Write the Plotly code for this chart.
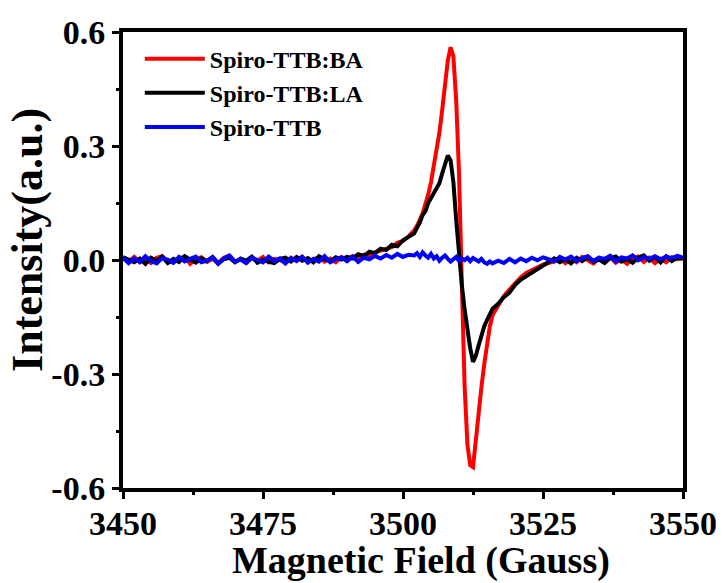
import plotly.graph_objects as go

# Magnetic field (Gauss)
field_gauss = [
    3450, 3451, 3452, 3453, 3454, 3455, 3456, 3457, 3458, 3459,
    3460, 3461, 3462, 3463, 3464, 3465, 3466, 3467, 3468, 3469,
    3470, 3471, 3472, 3473, 3474, 3475, 3476, 3477, 3478, 3479,
    3480, 3481, 3482, 3483, 3484, 3485, 3486, 3487, 3488, 3489,
    3490, 3491, 3492, 3493, 3494, 3495, 3496, 3497, 3498, 3499,
    3500, 3501, 3502,
    3502.5, 3503, 3503.5, 3504, 3504.5, 3505, 3505.5, 3506, 3506.5, 3507,
    3507.5, 3508, 3508.5, 3509, 3509.5, 3510, 3510.5, 3511, 3511.5, 3512,
    3512.5, 3513, 3513.5, 3514, 3514.5, 3515, 3515.5, 3516,
    3517, 3518, 3519, 3520, 3521, 3522, 3523, 3524, 3525, 3526,
    3527, 3528, 3529, 3530, 3531, 3532, 3533, 3534, 3535, 3536,
    3537, 3538, 3539, 3540, 3541, 3542, 3543, 3544, 3545, 3546,
    3547, 3548, 3549, 3550,
]

# Spiro-TTB:BA (red)
intensity_ba = [
    0.005, -0.004, 0.008, -0.006, 0.002, -0.008, 0.006, 0.010, -0.003, -0.007,
    0.004, 0.009, -0.010, 0.002, 0.007, -0.005, 0.003, -0.009, 0.006, 0.011,
    -0.004, 0.001, -0.008, 0.005, -0.002, 0.008, -0.006, 0.003, 0.000, -0.007,
    0.006, -0.003, 0.009, -0.005, 0.002, 0.007, -0.004, 0.004, -0.006, 0.008,
    0.003, 0.010, 0.006, 0.014, 0.012, 0.020, 0.025, 0.030, 0.034, 0.045,
    0.050, 0.062, 0.078,
    0.090, 0.105, 0.122, 0.148, 0.172, 0.205, 0.245, 0.290, 0.335, 0.395,
    0.465, 0.525, 0.560, 0.535, 0.420, 0.230, -0.060, -0.330, -0.485, -0.540,
    -0.545, -0.470, -0.395, -0.335, -0.275, -0.215, -0.175, -0.145,
    -0.120, -0.095, -0.078, -0.060, -0.046, -0.034, -0.026, -0.018, -0.012, -0.008,
    -0.004, 0.006, -0.008, 0.003, -0.006, 0.008, -0.002, -0.009, 0.005, -0.004,
    0.007, -0.007, 0.002, -0.010, 0.004, 0.009, -0.005, 0.006, -0.008, 0.003,
    -0.006, 0.007, 0.002, 0.005,
]

# Spiro-TTB:LA (black)
intensity_la = [
    0.008, 0.002, -0.006, 0.004, -0.010, 0.006, -0.002, 0.009, -0.008, 0.003,
    -0.005, 0.010, 0.001, -0.007, 0.005, -0.003, 0.008, -0.009, 0.002, 0.006,
    -0.006, 0.004, -0.002, 0.009, -0.007, 0.001, -0.005, -0.008, 0.003, 0.006,
    -0.004, 0.008, -0.002, 0.005, -0.006, 0.010, 0.002, -0.003, 0.007, 0.001,
    0.008, 0.004, 0.015, 0.010, 0.022, 0.018, 0.030, 0.026, 0.040, 0.036,
    0.052, 0.060, 0.070,
    0.085, 0.098, 0.118, 0.128, 0.150, 0.163, 0.178, 0.188, 0.202, 0.228,
    0.252, 0.275, 0.262, 0.205, 0.105, 0.015, -0.065, -0.130, -0.185, -0.232,
    -0.268, -0.252, -0.225, -0.198, -0.175, -0.158, -0.142, -0.128,
    -0.115, -0.098, -0.086, -0.066, -0.052, -0.043, -0.034, -0.024, -0.015, -0.008,
    0.004, -0.006, 0.002, -0.009, 0.006, -0.003, 0.008, -0.005, 0.001, -0.008,
    0.005, 0.009, -0.004, 0.003, -0.007, 0.006, 0.012, -0.002, 0.008, -0.006,
    0.010, -0.003, 0.006, 0.004,
]

# Spiro-TTB (blue)
intensity_ref = [
    0.006, -0.008, 0.004, -0.005, 0.010, -0.003, -0.009, 0.005, 0.001, -0.007,
    0.008, -0.004, 0.003, 0.009, -0.006, -0.002, 0.007, -0.010, 0.004, 0.012,
    -0.005, 0.002, -0.008, 0.006, 0.000, -0.006, 0.009, -0.003, 0.004, -0.009,
    0.005, -0.002, 0.008, -0.007, 0.003, -0.004, 0.010, -0.006, 0.002, 0.007,
    -0.003, 0.009, -0.005, 0.006, 0.002, 0.011, 0.004, 0.013, 0.006, 0.016,
    0.008, 0.014, 0.012,
    0.018, 0.008, 0.020, 0.012, 0.006, 0.016, 0.004, 0.010, -0.002, 0.006,
    0.012, 0.003, -0.004, 0.002, 0.008, -0.002, 0.004, 0.000, 0.006, -0.003,
    0.005, 0.001, -0.004, 0.003, -0.006, -0.010, -0.004, -0.009,
    -0.002, -0.008, 0.003, -0.006, 0.004, -0.003, 0.006, -0.001, 0.007, 0.002,
    -0.004, 0.008, 0.001, 0.009, -0.003, 0.005, 0.010, -0.002, 0.006, 0.003,
    0.011, -0.004, 0.007, 0.004, 0.012, -0.001, 0.008, 0.003, 0.010, 0.002,
    0.009, 0.005, 0.011, 0.006,
]

series_names = ["Spiro-TTB:BA", "Spiro-TTB:LA", "Spiro-TTB"]
series_colors = ["#ff0000", "#000000", "#0000ff"]

x_tickvals = [3450, 3475, 3500, 3525, 3550]
x_ticktext = ["3450", "3475", "3500", "3525", "3550"]
y_tickvals = [-0.6, -0.3, 0.0, 0.3, 0.6]
y_ticktext = ["-0.6", "-0.3", "0.0", "0.3", "0.6"]
x_title = "Magnetic Field (Gauss)"
y_title = "Intensity(a.u.)"

FONT = "Liberation Serif, Times New Roman, serif"

fig = go.Figure()
for name, color, ys in zip(series_names, series_colors,
                           [intensity_ba, intensity_la, intensity_ref]):
    fig.add_trace(go.Scatter(
        x=field_gauss, y=ys, mode="lines", name=name,
        line=dict(color=color, width=4),
    ))

axis_common = dict(
    showline=True, linecolor="black", linewidth=4, mirror=True,
    ticks="outside", ticklen=7, tickwidth=3, tickcolor="black",
    showgrid=False, zeroline=False, automargin=False,
    tickfont=dict(family=FONT, size=34, color="black", weight="bold"),
)

fig.update_xaxes(
    range=[3450, 3550], tickmode="array", tickvals=x_tickvals, ticktext=x_ticktext,
    minor=dict(ticks="outside", ticklen=3, tickwidth=3, dtick=12.5, tick0=3450,
               tickcolor="black"),
    ticklabelstandoff=-5,
    **axis_common,
)
fig.update_yaxes(
    range=[-0.6, 0.6], tickmode="array", tickvals=y_tickvals, ticktext=y_ticktext,
    minor=dict(ticks="outside", ticklen=3, tickwidth=3, dtick=0.15, tick0=0,
               tickcolor="black"),
    **axis_common,
)

# Axis titles placed as annotations for precise positioning
fig.add_annotation(
    text=x_title, xref="paper", yref="paper", x=0.532, y=0,
    xanchor="center", yanchor="top", yshift=-49, showarrow=False,
    font=dict(family=FONT, size=38, color="black", weight="bold"),
)
fig.add_annotation(
    text=y_title, xref="paper", yref="paper", x=0, y=0.544,
    xanchor="center", yanchor="middle", xshift=-95, textangle=-90, showarrow=False,
    font=dict(family=FONT, size=44, color="black", weight="bold"),
)

fig.update_layout(
    width=726, height=583,
    margin=dict(l=123, r=43, t=32, b=95),
    paper_bgcolor="white", plot_bgcolor="white",
    showlegend=True,
    legend=dict(
        x=0.03, y=0.99, xanchor="left", yanchor="top",
        bgcolor="rgba(0,0,0,0)", borderwidth=0,
        itemwidth=60, tracegroupgap=0,
        font=dict(family=FONT, size=24, color="black", weight="bold"),
    ),
)

fig.write_html("out.html")
